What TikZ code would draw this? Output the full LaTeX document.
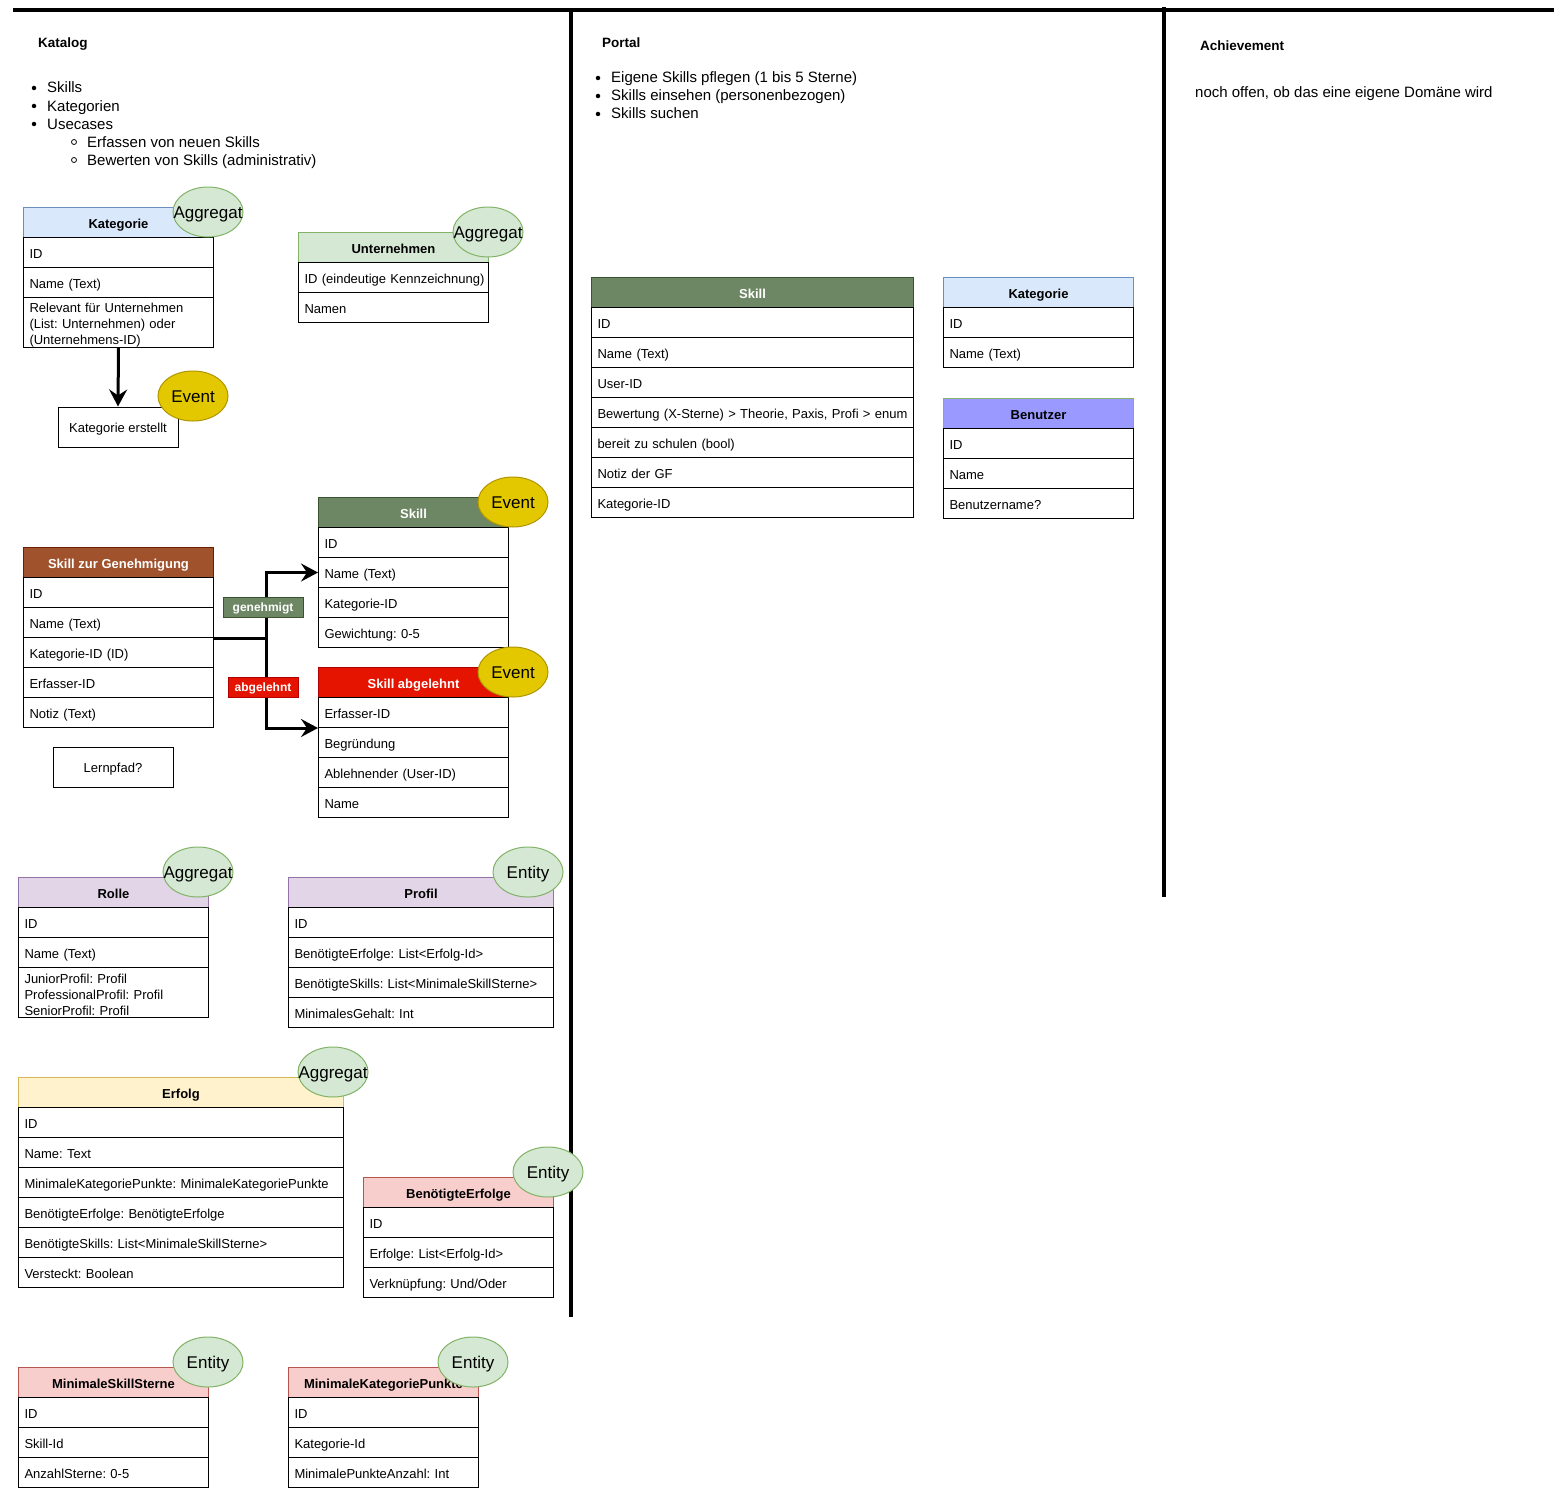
\documentclass[tikz,border=0pt]{standalone}
\usepackage{fontspec}
\setmainfont{Liberation Sans}
\usetikzlibrary{shapes.geometric,arrows.meta}
\frenchspacing
\definecolor{cblue}{HTML}{DAE8FC}\definecolor{sblue}{HTML}{6C8EBF}
\definecolor{cgreen}{HTML}{D5E8D4}\definecolor{sgreen}{HTML}{82B366}
\definecolor{cdgreen}{HTML}{6D8764}\definecolor{sdgreen}{HTML}{3A5431}
\definecolor{cbrown}{HTML}{A0522D}\definecolor{sbrown}{HTML}{6D1F00}
\definecolor{cred}{HTML}{E51400}\definecolor{sred}{HTML}{B20000}
\definecolor{cpurple}{HTML}{E1D5E7}\definecolor{spurple}{HTML}{9673A6}
\definecolor{cyellow}{HTML}{FFF2CC}\definecolor{syellow}{HTML}{D6B656}
\definecolor{cpink}{HTML}{F8CECC}\definecolor{spink}{HTML}{B85450}
\definecolor{cevent}{HTML}{E3C800}\definecolor{sevent}{HTML}{B09500}
\definecolor{cuser}{HTML}{9999FF}
\tikzset{
  thead/.style={anchor=north west, minimum height=30pt, inner sep=0pt, line width=1pt,
    text height=12pt, text depth=1pt, font=\bfseries\fontsize{13}{16}\selectfont},
  trow/.style={anchor=north west, draw=black, line width=1pt, inner xsep=6pt, inner ysep=0pt,
    align=left, font=\fontsize{13}{16}\selectfont},
  hblue/.style={fill=cblue, draw=sblue},
  hgreen/.style={fill=cgreen, draw=sgreen},
  hdgreen/.style={fill=cdgreen, draw=sdgreen, text=white},
  hbrown/.style={fill=cbrown, draw=sbrown, text=white},
  hred/.style={fill=cred, draw=sred, text=white},
  hpurple/.style={fill=cpurple, draw=spurple},
  hyellow/.style={fill=cyellow, draw=syellow},
  hpink/.style={fill=cpink, draw=spink},
  huser/.style={fill=cuser, draw=sgreen},
  tag/.style={ellipse, minimum width=70pt, minimum height=50pt, inner sep=0pt, line width=1pt,
    text height=0pt, text depth=0pt, font=\fontsize{17}{20}\selectfont},
  aggr/.style={tag, fill=cgreen, draw=sgreen},
  evt/.style={tag, fill=cevent, draw=sevent},
  plainbox/.style={draw=black, line width=1pt, minimum width=120pt, minimum height=40pt,
    inner sep=0pt, text height=12pt, text depth=1pt, font=\fontsize{13}{16}\selectfont},
  conn/.style={line width=3pt, -{Stealth[length=17pt, width=18pt, inset=6pt]}},
  lbl/.style={minimum height=20pt, inner sep=0pt, line width=1pt, text=white,
    text height=10pt, text depth=1pt, font=\bfseries\fontsize{12}{14}\selectfont},
  ttl/.style={anchor=west, inner sep=0pt, text height=13pt, text depth=1pt,
    font=\bfseries\fontsize{13.5}{16}\selectfont},
  listtxt/.style={anchor=west, inner sep=0pt, text height=13pt, text depth=1pt,
    font=\fontsize{15}{18}\selectfont},
  bul/.style={circle, fill=black, inner sep=0pt, minimum size=4.5pt},
  obul/.style={circle, draw=black, line width=0.8pt, inner sep=0pt, minimum size=5pt},
  sep/.style={line width=4pt, black},
}
\newcommand{\tagtxt}[1]{\makebox[0pt]{\raisebox{-6pt}[0pt][0pt]{#1}}}
\newcommand{\tabhead}[6]{\node[thead, #5, minimum width=#4pt] (#1) at (#2,#3) {#6};}
\newcommand{\tabrow}[6]{\pgfmathsetmacro{\rowtw}{#4-12}%
  \node[trow, minimum width=#4pt, minimum height=#5pt, text width=\rowtw pt,
    text height=12pt, text depth=1pt] (#1) at (#2,#3) {\mbox{#6}};}
\newcommand{\tabrowm}[6]{\pgfmathsetmacro{\rowtw}{#4-12}%
  \node[trow, minimum width=#4pt, minimum height=#5pt, text width=\rowtw pt,
    text height=15pt] (#1) at (#2,#3) {#6};}
\begin{document}
\begin{tikzpicture}[x=1pt,y=-1pt]
\useasboundingbox (0,0) rectangle (1562,1493);
\fill[white] (0,0) rectangle (1562,1493);

% separators
\draw[sep] (13,10) -- (1554,10);
\draw[sep] (571,10) -- (571,1317);
\draw[sep] (1164,7) -- (1164,897);

% titles and lists
\node[ttl] (tkat) at (38,42) {Katalog};
\node[ttl] (tpor) at (602,42) {Portal};
\node[ttl] (tach) at (1200,45) {Achievement};
\node[listtxt] (ach1) at (1195,92) {noch offen, ob das eine eigene Domäne wird};

\node[bul] (kb1) at (34,88) {}; \node[listtxt] (kl1) at (47,87) {Skills};
\node[bul] (kb2) at (34,106) {}; \node[listtxt] (kl2) at (47,105) {Kategorien};
\node[bul] (kb3) at (34,124) {}; \node[listtxt] (kl3) at (47,123) {Usecases};
\node[obul] (kb4) at (74,142) {}; \node[listtxt] (kl4) at (87,141) {Erfassen von neuen Skills};
\node[obul] (kb5) at (74,160) {}; \node[listtxt] (kl5) at (87,159) {Bewerten von Skills (administrativ)};

\node[bul] (pb1) at (598,78) {}; \node[listtxt] (pl1) at (611,77) {Eigene Skills pflegen (1 bis 5 Sterne)};
\node[bul] (pb2) at (598,96) {}; \node[listtxt] (pl2) at (611,95) {Skills einsehen (personenbezogen)};
\node[bul] (pb3) at (598,114) {}; \node[listtxt] (pl3) at (611,113) {Skills suchen};

% Kategorie (Katalog)
\tabhead{kat}{23}{207}{190}{hblue}{Kategorie}
\tabrow{kat1}{23}{237}{190}{30}{ID}
\tabrow{kat2}{23}{267}{190}{30}{Name (Text)}
\tabrowm{kat3}{23}{297}{190}{50}{Relevant für Unternehmen\\(List: Unternehmen) oder\\(Unternehmens-ID)}
\node[plainbox] (kerst) at (118,427) {Kategorie erstellt};
\draw[conn] (kat3.south) -- (kerst.north);

% Unternehmen
\tabhead{unt}{298}{232}{190}{hgreen}{Unternehmen}
\tabrow{unt1}{298}{262}{190}{30}{ID (eindeutige Kennzeichnung)}
\tabrow{unt2}{298}{292}{190}{30}{Namen}

% Skill (Katalog)
\tabhead{sk}{318}{497}{190}{hdgreen}{Skill}
\tabrow{sk1}{318}{527}{190}{30}{ID}
\tabrow{sk2}{318}{557}{190}{30}{Name (Text)}
\tabrow{sk3}{318}{587}{190}{30}{Kategorie-ID}
\tabrow{sk4}{318}{617}{190}{30}{Gewichtung: 0-5}

% Skill zur Genehmigung
\tabhead{sg}{23}{547}{190}{hbrown}{Skill zur Genehmigung}
\tabrow{sg1}{23}{577}{190}{30}{ID}
\tabrow{sg2}{23}{607}{190}{30}{Name (Text)}
\tabrow{sg3}{23}{637}{190}{30}{Kategorie-ID (ID)}
\tabrow{sg4}{23}{667}{190}{30}{Erfasser-ID}
\tabrow{sg5}{23}{697}{190}{30}{Notiz (Text)}

% Skill abgelehnt
\tabhead{sa}{318}{667}{190}{hred}{Skill abgelehnt}
\tabrow{sa1}{318}{697}{190}{30}{Erfasser-ID}
\tabrow{sa2}{318}{727}{190}{30}{Begründung}
\tabrow{sa3}{318}{757}{190}{30}{Ablehnender (User-ID)}
\tabrow{sa4}{318}{787}{190}{30}{Name}

\draw[conn] (sg2.south east) -- ++(52,0) |- (sk2.west);
\draw[conn] (sg2.south east) -- ++(52,0) |- (sa1.south west);
\node[lbl, fill=cdgreen, draw=sdgreen, minimum width=80pt] (lgen) at (263,607) {genehmigt};
\node[lbl, fill=cred, draw=sred, minimum width=70pt] (labg) at (263,687) {abgelehnt};

\node[plainbox] (lern) at (113,767) {Lernpfad?};

% Rolle
\tabhead{ro}{18}{877}{190}{hpurple}{Rolle}
\tabrow{ro1}{18}{907}{190}{30}{ID}
\tabrow{ro2}{18}{937}{190}{30}{Name (Text)}
\tabrowm{ro3}{18}{967}{190}{50}{JuniorProfil: Profil\\ProfessionalProfil: Profil\\SeniorProfil: Profil}

% Profil
\tabhead{pr}{288}{877}{265}{hpurple}{Profil}
\tabrow{pr1}{288}{907}{265}{30}{ID}
\tabrow{pr2}{288}{937}{265}{30}{BenötigteErfolge: List<Erfolg-Id>}
\tabrow{pr3}{288}{967}{265}{30}{BenötigteSkills: List<MinimaleSkillSterne>}
\tabrow{pr4}{288}{997}{265}{30}{MinimalesGehalt: Int}

% Erfolg
\tabhead{er}{18}{1077}{325}{hyellow}{Erfolg}
\tabrow{er1}{18}{1107}{325}{30}{ID}
\tabrow{er2}{18}{1137}{325}{30}{Name: Text}
\tabrow{er3}{18}{1167}{325}{30}{MinimaleKategoriePunkte: MinimaleKategoriePunkte}
\tabrow{er4}{18}{1197}{325}{30}{BenötigteErfolge: BenötigteErfolge}
\tabrow{er5}{18}{1227}{325}{30}{BenötigteSkills: List<MinimaleSkillSterne>}
\tabrow{er6}{18}{1257}{325}{30}{Versteckt: Boolean}

% BenötigteErfolge
\tabhead{be}{363}{1177}{190}{hpink}{BenötigteErfolge}
\tabrow{be1}{363}{1207}{190}{30}{ID}
\tabrow{be2}{363}{1237}{190}{30}{Erfolge: List<Erfolg-Id>}
\tabrow{be3}{363}{1267}{190}{30}{Verknüpfung: Und/Oder}

% MinimaleSkillSterne
\tabhead{ms}{18}{1367}{190}{hpink}{MinimaleSkillSterne}
\tabrow{ms1}{18}{1397}{190}{30}{ID}
\tabrow{ms2}{18}{1427}{190}{30}{Skill-Id}
\tabrow{ms3}{18}{1457}{190}{30}{AnzahlSterne: 0-5}

% MinimaleKategoriePunkte
\tabhead{mk}{288}{1367}{190}{hpink}{MinimaleKategoriePunkte}
\tabrow{mk1}{288}{1397}{190}{30}{ID}
\tabrow{mk2}{288}{1427}{190}{30}{Kategorie-Id}
\tabrow{mk3}{288}{1457}{190}{30}{MinimalePunkteAnzahl: Int}

% Portal Skill
\tabhead{ps}{591}{277}{322}{hdgreen}{Skill}
\tabrow{ps1}{591}{307}{322}{30}{ID}
\tabrow{ps2}{591}{337}{322}{30}{Name (Text)}
\tabrow{ps3}{591}{367}{322}{30}{User-ID}
\tabrow{ps4}{591}{397}{322}{30}{Bewertung (X-Sterne) > Theorie, Paxis, Profi > enum}
\tabrow{ps5}{591}{427}{322}{30}{bereit zu schulen (bool)}
\tabrow{ps6}{591}{457}{322}{30}{Notiz der GF}
\tabrow{ps7}{591}{487}{322}{30}{Kategorie-ID}

% Portal Kategorie
\tabhead{pk}{943}{277}{190}{hblue}{Kategorie}
\tabrow{pk1}{943}{307}{190}{30}{ID}
\tabrow{pk2}{943}{337}{190}{30}{Name (Text)}

% Benutzer
\tabhead{bu}{943}{398}{190}{huser}{Benutzer}
\tabrow{bu1}{943}{428}{190}{30}{ID}
\tabrow{bu2}{943}{458}{190}{30}{Name}
\tabrow{bu3}{943}{488}{190}{30}{Benutzername?}

% tags
\node[aggr] (t1) at (208,212) {\tagtxt{Aggregat}};
\node[evt] (t2) at (193,396) {\tagtxt{Event}};
\node[aggr] (t3) at (488,232) {\tagtxt{Aggregat}};
\node[evt] (t4) at (513,502) {\tagtxt{Event}};
\node[evt] (t5) at (513,672) {\tagtxt{Event}};
\node[aggr] (t6) at (198,872) {\tagtxt{Aggregat}};
\node[aggr] (t7) at (528,872) {\tagtxt{Entity}};
\node[aggr] (t8) at (333,1072) {\tagtxt{Aggregat}};
\node[aggr] (t9) at (548,1172) {\tagtxt{Entity}};
\node[aggr] (t10) at (208,1362) {\tagtxt{Entity}};
\node[aggr] (t11) at (473,1362) {\tagtxt{Entity}};
\end{tikzpicture}
\end{document}
